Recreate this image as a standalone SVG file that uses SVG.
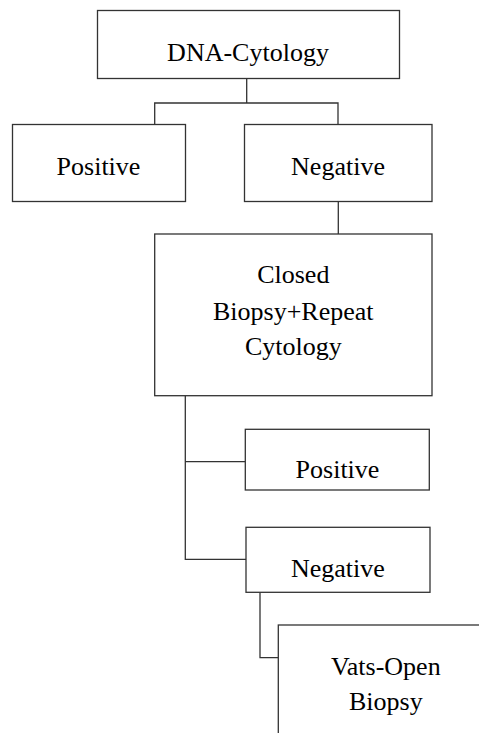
<svg xmlns="http://www.w3.org/2000/svg" width="479" height="733" viewBox="0 0 479 733">
<style>
.box{fill:#fff;stroke:#333;stroke-width:1.3}
.ln{fill:none;stroke:#333;stroke-width:1.3}
text{font-family:"Liberation Serif","Times New Roman",serif;font-size:26px;fill:#000;text-anchor:middle}
</style>
<rect width="479" height="733" fill="#fff"/>
<g id="connectors">
<path class="ln" d="M246.7 78.5V103M154.7 124.5V103H338V124.5"/>
<path class="ln" d="M338.3 201.3V234"/>
<path class="ln" d="M185.3 395.7V559.3H246M185.3 461.7H245.3"/>
<path class="ln" d="M260 592.3V657.7H278.3"/>
</g>
<g id="dna-cytology"><rect class="box" x="97.5" y="10.5" width="302" height="68"/><text x="248" y="61">DNA-Cytology</text></g>
<g id="positive1"><rect class="box" x="12.5" y="124.5" width="173" height="77"/><text x="98.5" y="175">Positive</text></g>
<g id="negative1"><rect class="box" x="244.5" y="124.5" width="187.5" height="77"/><text x="338" y="175">Negative</text></g>
<g id="closed-biopsy"><rect class="box" x="154.7" y="234" width="277.3" height="161.7"/><text x="293.3" y="283">Closed</text><text x="293.3" y="320">Biopsy+Repeat</text><text x="293.3" y="355">Cytology</text></g>
<g id="positive2"><rect class="box" x="245.3" y="429.3" width="184" height="60.7"/><text x="337.5" y="478">Positive</text></g>
<g id="negative2"><rect class="box" x="246" y="527.3" width="184" height="65"/><text x="337.8" y="577.3">Negative</text></g>
<g id="vats-open"><rect class="box" x="278.3" y="625" width="215" height="130"/><text x="385.8" y="675">Vats-Open</text><text x="385.8" y="710">Biopsy</text></g>
</svg>
